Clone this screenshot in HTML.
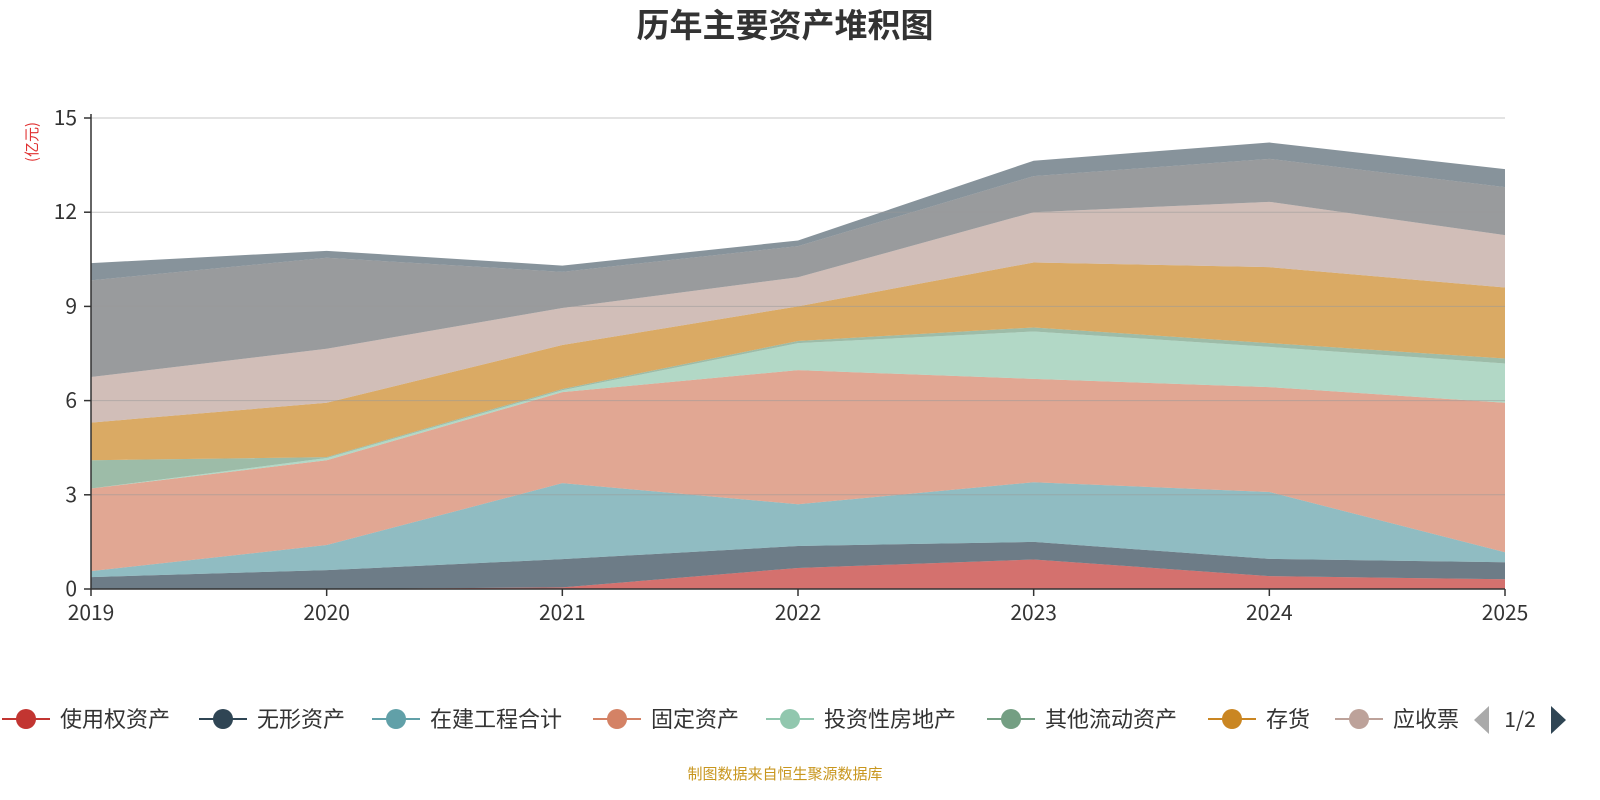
<!DOCTYPE html>
<html><head><meta charset="utf-8">
<style>
html,body{margin:0;padding:0;background:#fff;}
svg{display:block;font-family:"Noto Sans CJK SC","Liberation Sans",sans-serif;}
</style></head>
<body>
<svg id="chart" width="1600" height="800" viewBox="0 0 1600 800">
<text x="785" y="37" text-anchor="middle" font-size="33" font-weight="bold" fill="#333">历年主要资产堆积图</text>
<text transform="translate(37,142) rotate(-90)" text-anchor="middle" font-size="15" fill="#e03030">(亿元)</text>
<text x="785" y="779" text-anchor="middle" font-size="15" fill="#c8961e">制图数据来自恒生聚源数据库</text>
<g id="areas"></g><g id="grid"></g><g id="axes"></g><g id="legend"></g>
</svg>
<script>
const years = ['2019','2020','2021','2022','2023','2024','2025'];
const yTicks = [0,3,6,9,12,15];
const seriesNames = ['使用权资产','无形资产','在建工程合计','固定资产','投资性房地产','其他流动资产','存货','应收账款','货币资金','其他资产'];
const s0 = [0, 0, 0.05, 0.67, 0.94, 0.41, 0.31];
const s1 = [0.38, 0.6, 0.9, 0.7, 0.56, 0.55, 0.54];
const s2 = [0.19, 0.8, 2.42, 1.33, 1.9, 2.13, 0.32];
const s3 = [2.63, 2.7, 2.9, 4.27, 3.29, 3.34, 4.76];
const s4 = [0, 0.07, 0.06, 0.86, 1.51, 1.28, 1.25];
const s5 = [0.9, 0.03, 0.04, 0.07, 0.13, 0.12, 0.16];
const s6 = [1.2, 1.73, 1.4, 1.1, 2.07, 2.42, 2.26];
const s7 = [1.45, 1.72, 1.18, 0.93, 1.6, 2.08, 1.67];
const s8 = [3.08, 2.9, 1.15, 0.99, 1.15, 1.37, 1.53];
const s9 = [0.55, 0.22, 0.2, 0.18, 0.49, 0.52, 0.57];
const seriesValues = [s0,s1,s2,s3,s4,s5,s6,s7,s8,s9];
const colors = ['#c23531','#2f4554','#61a0a8','#d48265','#91c7ae','#749f83','#ca8622','#bda29a','#6e7074','#546570'];

const NS='http://www.w3.org/2000/svg';
const X0=91,X1=1505,Y0=589,Y1=118,YMAX=15;
const xs=i=>X0+(X1-X0)*i/(years.length-1);
const ys=v=>Y0-(Y0-Y1)*v/YMAX;
function mk(tag,attrs,parent){const e=document.createElementNS(NS,tag);for(const k in attrs)e.setAttribute(k,attrs[k]);parent.appendChild(e);return e;}

const areas=document.getElementById('areas');
let base=years.map(()=>0);
seriesValues.forEach((vals,si)=>{
  const top=base.map((b,i)=>b+vals[i]);
  let d='M'+years.map((_,i)=>xs(i)+','+ys(top[i])).join(' L');
  for(let i=years.length-1;i>=0;i--) d+=' L'+xs(i)+','+ys(base[i]);
  d+='Z';
  const p=mk('path',{d:d,fill:colors[si],'fill-opacity':0.7,stroke:'none'},areas);
  
  
  base=top;
});

const grid=document.getElementById('grid');
const axes=document.getElementById('axes');
yTicks.forEach(t=>{
  if(t>0){const l=mk('line',{x1:X0,x2:X1,y1:ys(t),y2:ys(t),stroke:'#999','stroke-opacity':0.55,'stroke-width':1},grid);
  
  }
  const tk=mk('line',{x1:X0-7,x2:X0,y1:ys(t),y2:ys(t),stroke:'#333','stroke-width':1.5},axes);
  
  
  const tx=mk('text',{x:X0-14,y:ys(t)+7,'text-anchor':'end','font-size':21,fill:'#333'},axes);
  tx.textContent=t;
  
  
});
const ya=mk('line',{x1:X0,x2:X0,y1:Y1-4,y2:Y0,stroke:'#333','stroke-width':1.5},axes);


const xa=mk('line',{x1:X0,x2:X1,y1:Y0,y2:Y0,stroke:'#333','stroke-width':1.5},axes);


years.forEach((y,i)=>{
  const tk=mk('line',{x1:xs(i),x2:xs(i),y1:Y0,y2:Y0+7,stroke:'#333','stroke-width':1.5},axes);
  
  
  const tx=mk('text',{x:xs(i),y:Y0+31,'text-anchor':'middle','font-size':21,fill:'#333'},axes);
  tx.textContent=y;
  
  
});

const legend=document.getElementById('legend');
const lx=[2,199,372,593,766,987,1208,1335];
for(let i=0;i<8;i++){
  const g=mk('g',{},legend);
  
  
  const x=lx[i];
  mk('line',{x1:x,x2:x+48,y1:719,y2:719,stroke:colors[i],'stroke-width':2},g);
  mk('circle',{cx:x+24,cy:719,r:10,fill:colors[i]},g);
  const t=mk('text',{x:x+58,y:727,'font-size':22,fill:'#333'},g);
  t.textContent=(i===7)?'应收票':seriesNames[i];
}
const cover=mk('rect',{x:1462,y:700,width:138,height:40,fill:'#fff'},legend);


const pl=mk('path',{d:'M1489,706 L1489,734 L1474,720 Z',fill:'#aaa'},legend);


const pt=mk('text',{x:1520,y:727,'text-anchor':'middle','font-size':21,fill:'#333'},legend);
pt.textContent='1/2';


const pn=mk('path',{d:'M1551,706 L1551,734 L1566,720 Z',fill:'#2f4554'},legend);


</script>
</body></html>
